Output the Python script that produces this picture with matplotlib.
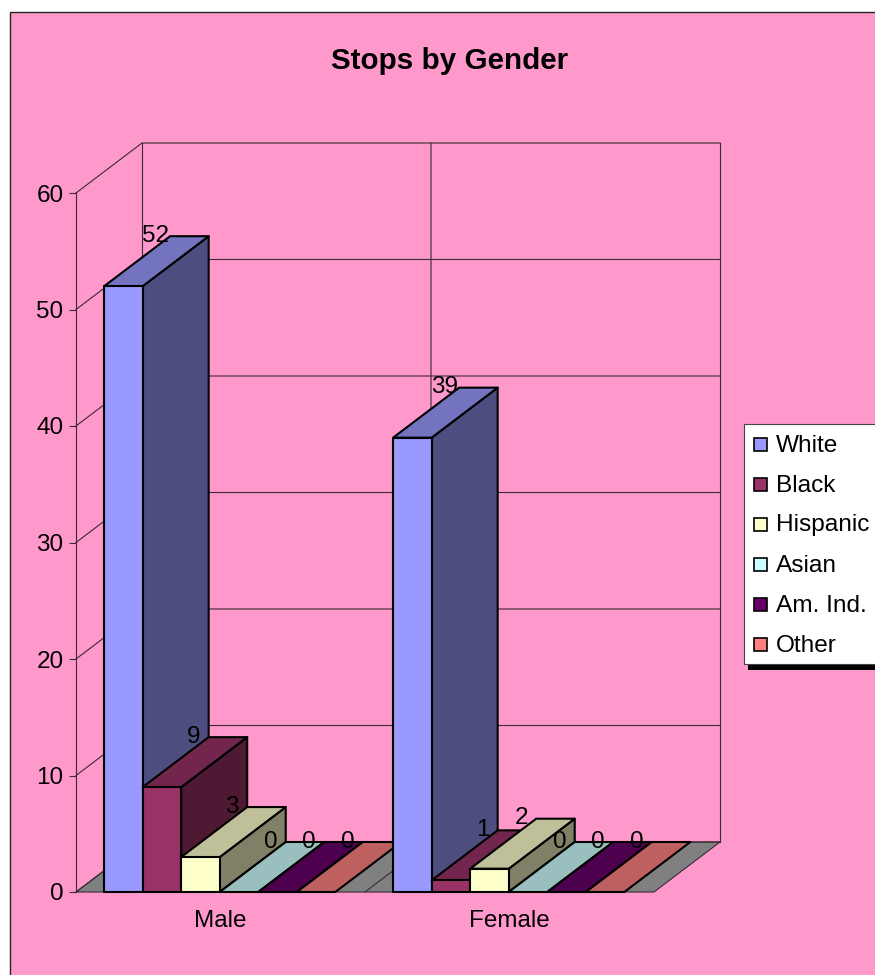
import matplotlib
matplotlib.use('Agg')
import matplotlib.pyplot as plt
from matplotlib.patches import Polygon, Rectangle

plt.rcParams['font.family'] = ['Liberation Sans', 'DejaVu Sans']

categories = ['Male', 'Female']
series = ['White', 'Black', 'Hispanic', 'Asian', 'Am. Ind.', 'Other']
male = [52, 9, 3, 0, 0, 0]
female = [39, 1, 2, 0, 0, 0]
yticks = [0, 10, 20, 30, 40, 50, 60]

front_colors = ['#9999FF', '#993366', '#FFFFCC', '#CCFFFF', '#660066', '#FF8080']
top_colors = ['#7373BF', '#73264D', '#BFBF99', '#99BFBF', '#4D004D', '#BF6060']
side_colors = ['#4D4D80', '#4D1933', '#808066', '#668080', '#330033', '#804040']

W, H = 875, 975
PINK = '#FF99CC'
GRID = '#3A2A33'

fig = plt.figure(figsize=(W / 100, H / 100), dpi=100, facecolor='white')

# overlay in pixels for the frame, title and legend
bg = fig.add_axes([0, 0, 1, 1], zorder=0)
bg.set_xlim(0, W)
bg.set_ylim(H, 0)
bg.axis('off')
bg.add_patch(Rectangle((10, 12), W, H, fc=PINK, ec='#222222', lw=1.0))
bg.text(450, 61, 'Stops by Gender', fontsize=21.3, fontweight='bold',
        ha='center', va='center', color='black')

# front plane of the 3d box: x in categories, y in values
left, right, top, bottom = 76, 654, 193, 892
ax = fig.add_axes([left / W, 1 - bottom / H, (right - left) / W, (bottom - top) / H], zorder=1)
ax.set_xlim(0, len(categories))
ax.set_ylim(0, 60)
ax.patch.set_alpha(0)
for s in ax.spines.values():
    s.set_visible(False)

# depth of the box in data units
dx = 66 / ((right - left) / len(categories))
dy = 50 / ((bottom - top) / 60)
xmax = len(categories)
ymax = 60

# floor and walls
ax.add_patch(Polygon([(0, 0), (xmax, 0), (xmax + dx, dy), (dx, dy)], fc='#808080', ec=GRID, lw=0.8, clip_on=False))
for v in yticks:
    ax.plot([0, dx, xmax + dx], [v, v + dy, v + dy], color=GRID, lw=0.8, clip_on=False, zorder=1)
ax.plot([0, 0], [0, ymax], color=GRID, lw=0.8, clip_on=False, zorder=1)
ax.plot([dx, dx], [dy, ymax + dy], color=GRID, lw=0.8, clip_on=False, zorder=1)
ax.plot([xmax + dx, xmax + dx], [dy, ymax + dy], color=GRID, lw=0.8, clip_on=False, zorder=1)
for i in range(1, len(categories)):
    ax.plot([i, i + dx, i + dx], [0, dy, ymax + dy], color=GRID, lw=0.8, clip_on=False, zorder=1)

# bars, left to right so each one covers the side of the one before
bar_w = 1 / 7.5
z = 3
labels = []
for c, vals in enumerate([male, female]):
    start = c + 0.73 * bar_w
    for i, v in enumerate(vals):
        x0 = start + i * bar_w
        x1 = x0 + bar_w
        kw = dict(ec='black', lw=1.5, joinstyle='round', clip_on=False, zorder=z)
        if v > 0:
            ax.add_patch(Polygon([(x1, 0), (x1 + dx, dy), (x1 + dx, v + dy), (x1, v)], fc=side_colors[i], **kw))
        ax.add_patch(Polygon([(x0, v), (x1, v), (x1 + dx, v + dy), (x0 + dx, v + dy)], fc=top_colors[i], **kw))
        if v > 0:
            ax.add_patch(Polygon([(x0, 0), (x1, 0), (x1, v), (x0, v)], fc=front_colors[i], **kw))
        labels.append((x0 + bar_w / 2 + dx * 0.48, v + dy + 0.03, v))
        z += 1
for x, y, v in labels:
    ax.text(x, y, str(v), fontsize=17.5, ha='center', va='center', color='black', zorder=100, clip_on=False)

ax.set_xticks([0.5, 1.5])
ax.set_xticklabels(categories, fontsize=17.5)
ax.set_yticks(yticks)
ax.tick_params(axis='y', length=5, width=0.8, color=GRID, labelsize=17.5, pad=4)
ax.tick_params(axis='x', length=0, pad=13)

# legend
fg = fig.add_axes([0, 0, 1, 1], zorder=2)
fg.set_xlim(0, W)
fg.set_ylim(H, 0)
fg.axis('off')
fg.add_patch(Rectangle((748, 664), W, 5.5, fc='black', ec='none'))
fg.add_patch(Rectangle((744, 424), W, 240, fc='white', ec='#444444', lw=0.8))
for i, name in enumerate(series):
    ly = 444 + 40 * i
    fg.add_patch(Rectangle((754, ly - 6.5), 13, 13.5, fc=front_colors[i], ec='black', lw=1.2))
    fg.text(776, ly + 1.5, name, fontsize=17.6, ha='left', va='center', color='black')

fig.savefig('out.png', dpi=100)
